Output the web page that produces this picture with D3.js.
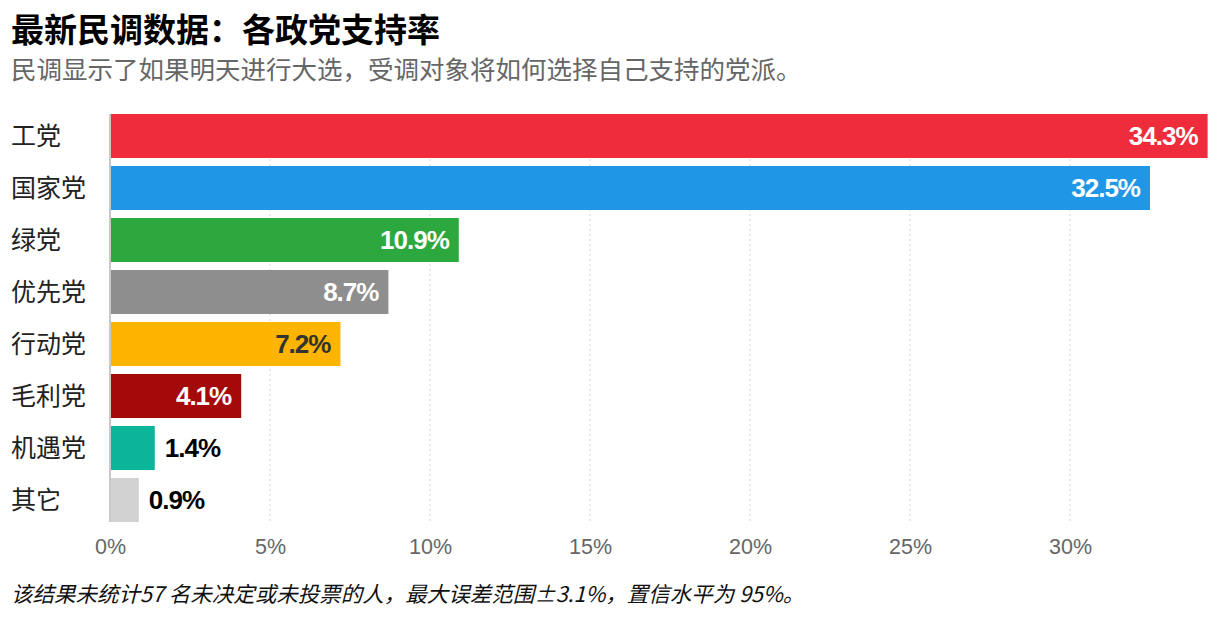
<!DOCTYPE html>
<html><head><meta charset="utf-8">
<script src="https://cdn.jsdelivr.net/npm/d3@7"></script>
<style>body{margin:0;background:#fff;}svg{display:block;font-family:"Noto Sans CJK SC","Noto Sans",sans-serif;}</style>
</head><body>
<svg id="chart" width="1220" height="622"></svg>
<script>
const categories = ["工党","国家党","绿党","优先党","行动党","毛利党","机遇党","其它"];
const values = [34.3,32.5,10.9,8.7,7.2,4.1,1.4,0.9];
const colors = ["#EE2C3C","#2097E6","#2DA83E","#8E8E8E","#FFB400","#A50A0A","#0AB59A","#D2D2D2"];
const labelColors = ["#fff","#fff","#fff","#fff","#333","#fff","#000","#000"];
const ticks = [0,5,10,15,20,25,30];
const title = "最新民调数据：各政党支持率";
const subtitle = "民调显示了如果明天进行大选，受调对象将如何选择自己支持的党派。";
const note = "该结果未统计57 名未决定或未投票的人，最大误差范围±3.1%，置信水平为 95%。";

const svg = d3.select("#chart");
const x = d3.scaleLinear().domain([0,34.3]).range([110,1207.6]);
const y = d3.scaleBand().domain(categories).range([114,522]).paddingInner(8/52).paddingOuter(0);

svg.append("text").attr("x",11).attr("y",42).attr("font-size",33).attr("font-weight",700).attr("fill","#000").text(title);
svg.append("text").attr("x",11).attr("y",79).attr("font-size",25.5).attr("fill","#666").text(subtitle);

const yBottom = y(categories[categories.length-1]) + y.bandwidth();
svg.append("g").selectAll("line").data(ticks.filter(d=>d>0)).join("line")
  .attr("x1",d=>x(d)).attr("x2",d=>x(d)).attr("y1",114).attr("y2",yBottom)
  .attr("stroke","#ddd").attr("stroke-width",1.2).attr("stroke-dasharray","2,3");

const xAxis = svg.append("g").attr("transform",`translate(0,${yBottom})`)
  .call(d3.axisBottom(x).tickValues(ticks).tickFormat(d=>d+"%").tickSize(0).tickPadding(0));
xAxis.select(".domain").remove();
xAxis.selectAll("text").attr("dy",null).attr("y",32).attr("font-size",21.5).attr("fill","#666")
  .attr("font-family","'Liberation Sans','Noto Sans',sans-serif");

svg.append("g").selectAll("rect").data(values).join("rect")
  .attr("x",x(0)+1).attr("y",(d,i)=>y(categories[i])).attr("height",y.bandwidth())
  .attr("width",d=>x(d)-x(0)-1).attr("fill",(d,i)=>colors[i]);

svg.append("line").attr("x1",x(0)).attr("x2",x(0)).attr("y1",114).attr("y2",yBottom)
  .attr("stroke","#c8c8c8").attr("stroke-width",2);

svg.append("g").selectAll("text").data(categories).join("text")
  .attr("x",11).attr("y",d=>y(d)+y.bandwidth()/2).attr("dy","0.36em")
  .attr("font-size",25).attr("fill","#222").text(d=>d);

svg.append("g").selectAll("text").data(values).join("text")
  .attr("x",d=> d>3 ? x(d)-10 : x(d)+10)
  .attr("text-anchor",d=> d>3 ? "end" : "start")
  .attr("y",(d,i)=>y(categories[i])+y.bandwidth()/2).attr("dy","0.36em")
  .attr("font-size",26).attr("font-weight",700).attr("letter-spacing","-1")
  .attr("font-family","'Liberation Sans','Noto Sans',sans-serif")
  .attr("fill",(d,i)=>labelColors[i]).text(d=>d.toFixed(1)+"%");

svg.append("text").attr("x",11).attr("y",602).attr("font-size",21.5).attr("font-style","italic").attr("fill","#111").text(note);
</script>
</body></html>
